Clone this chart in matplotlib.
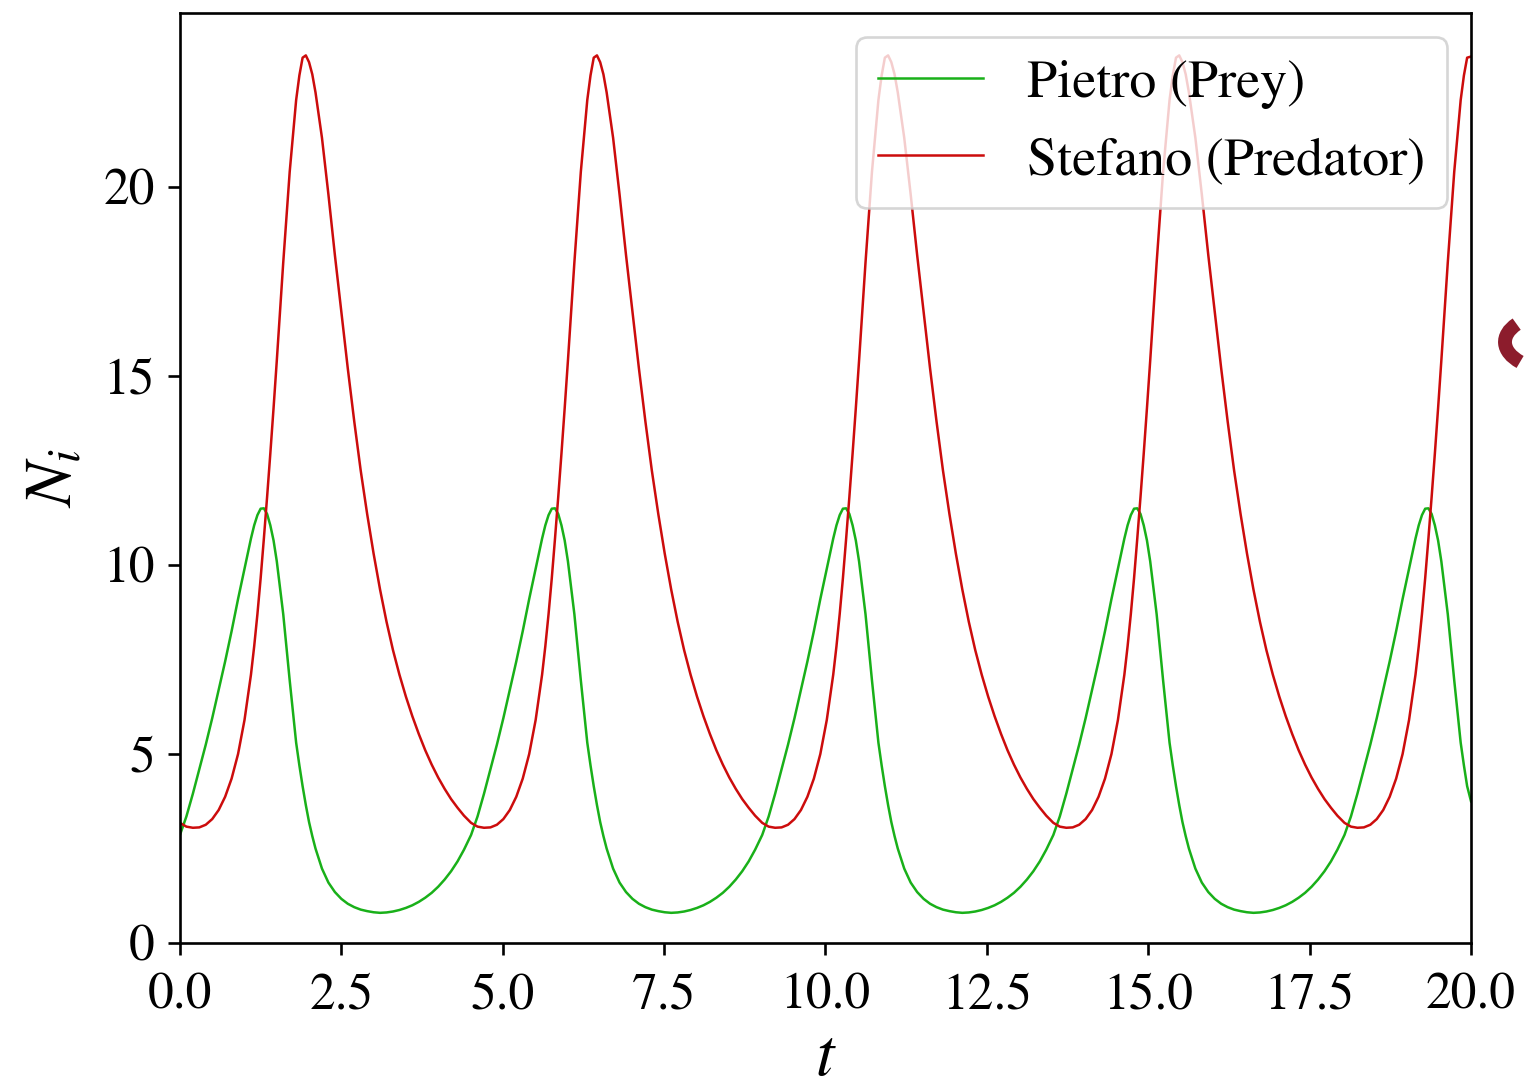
import numpy as np
import matplotlib
matplotlib.use("Agg")
import matplotlib.pyplot as plt
from matplotlib.patches import Arc

plt.rcParams['font.family'] = ['STIXGeneral', 'DejaVu Serif']
plt.rcParams['mathtext.fontset'] = 'stix'

# values, one list per oscillation
t0 = [0.0, 0.1, 0.2, 0.3, 0.4, 0.5, 0.6, 0.7, 0.8, 0.9, 1.0, 1.1,
      1.15, 1.2, 1.25, 1.3, 1.35, 1.4, 1.45, 1.5, 1.6, 1.7, 1.8, 1.85, 1.9, 1.95, 2.0, 2.05, 2.1,
      2.2, 2.3, 2.4, 2.5, 2.6, 2.7, 2.8, 2.9, 3.0, 3.1, 3.2, 3.3, 3.4, 3.5, 3.6, 3.7, 3.8, 3.9, 4.0, 4.1,
      4.2, 4.3, 4.4]
t1 = [4.51, 4.61, 4.71, 4.81, 4.91, 5.01, 5.11, 5.21, 5.31, 5.41, 5.51, 5.61,
      5.66, 5.71, 5.76, 5.81, 5.86, 5.91, 5.96, 6.01, 6.11, 6.21, 6.31, 6.36, 6.41, 6.46, 6.51, 6.56, 6.61,
      6.71, 6.81, 6.91, 7.01, 7.11, 7.21, 7.31, 7.41, 7.51, 7.61, 7.71, 7.81, 7.91, 8.01, 8.11, 8.21, 8.31,
      8.41, 8.51, 8.61, 8.71, 8.81, 8.91]
t2 = [9.02, 9.12, 9.22, 9.32, 9.42, 9.52, 9.62, 9.72, 9.82, 9.92, 10.02, 10.12,
      10.17, 10.22, 10.27, 10.32, 10.37, 10.42, 10.47, 10.52, 10.62, 10.72, 10.82, 10.87, 10.92, 10.97, 11.02,
      11.07, 11.12,
      11.22, 11.32, 11.42, 11.52, 11.62, 11.72, 11.82, 11.92, 12.02, 12.12, 12.22, 12.32, 12.42, 12.52, 12.62,
      12.72, 12.82, 12.92, 13.02, 13.12, 13.22, 13.32, 13.42]
t3 = [13.53, 13.63, 13.73, 13.83, 13.93, 14.03, 14.13, 14.23, 14.33, 14.43, 14.53, 14.63,
      14.68, 14.73, 14.78, 14.83, 14.88, 14.93, 14.98, 15.03, 15.13, 15.23, 15.33, 15.38, 15.43, 15.48, 15.53,
      15.58, 15.63,
      15.73, 15.83, 15.93, 16.03, 16.13, 16.23, 16.33, 16.43, 16.53, 16.63, 16.73, 16.83, 16.93, 17.03, 17.13,
      17.23, 17.33, 17.43, 17.53, 17.63, 17.73, 17.83, 17.93]
t4 = [18.04, 18.14, 18.24, 18.34, 18.44, 18.54, 18.64, 18.74, 18.84, 18.94, 19.04, 19.14,
      19.19, 19.24, 19.29, 19.34, 19.39, 19.44, 19.49, 19.54, 19.64, 19.74, 19.84, 19.89, 19.94, 20.0]

prey0 = [2.86, 3.35, 3.95, 4.6, 5.25, 5.95, 6.7, 7.45, 8.25, 9.1, 9.9, 10.7,
         11.05, 11.32, 11.49, 11.5, 11.35, 11.05, 10.65, 10.1, 8.7, 6.95, 5.3, 4.7, 4.15, 3.65, 3.2, 2.83, 2.5,
         1.97, 1.6, 1.35, 1.17, 1.04, 0.95, 0.885, 0.845, 0.815, 0.80, 0.81, 0.835, 0.875, 0.93, 1.0, 1.09, 1.2,
         1.33, 1.49, 1.68, 1.9, 2.16, 2.47]
prey1 = [2.86, 3.35, 3.95, 4.6, 5.25, 5.95, 6.7, 7.45, 8.25, 9.1, 9.9, 10.7,
         11.05, 11.32, 11.49, 11.5, 11.35, 11.05, 10.65, 10.1, 8.7, 6.95, 5.3, 4.7, 4.15, 3.65, 3.2, 2.83, 2.5,
         1.97, 1.6, 1.35, 1.17, 1.04, 0.95, 0.885, 0.845, 0.815, 0.80, 0.81, 0.835, 0.875, 0.93, 1.0, 1.09, 1.2,
         1.33, 1.49, 1.68, 1.9, 2.16, 2.47]
prey2 = [2.86, 3.35, 3.95, 4.6, 5.25, 5.95, 6.7, 7.45, 8.25, 9.1, 9.9, 10.7,
         11.05, 11.32, 11.49, 11.5, 11.35, 11.05, 10.65, 10.1, 8.7, 6.95, 5.3, 4.7, 4.15, 3.65, 3.2, 2.83, 2.5,
         1.97, 1.6, 1.35, 1.17, 1.04, 0.95, 0.885, 0.845, 0.815, 0.80, 0.81, 0.835, 0.875, 0.93, 1.0, 1.09, 1.2,
         1.33, 1.49, 1.68, 1.9, 2.16, 2.47]
prey3 = [2.86, 3.35, 3.95, 4.6, 5.25, 5.95, 6.7, 7.45, 8.25, 9.1, 9.9, 10.7,
         11.05, 11.32, 11.49, 11.5, 11.35, 11.05, 10.65, 10.1, 8.7, 6.95, 5.3, 4.7, 4.15, 3.65, 3.2, 2.83, 2.5,
         1.97, 1.6, 1.35, 1.17, 1.04, 0.95, 0.885, 0.845, 0.815, 0.80, 0.81, 0.835, 0.875, 0.93, 1.0, 1.09, 1.2,
         1.33, 1.49, 1.68, 1.9, 2.16, 2.47]
prey4 = [2.86, 3.35, 3.95, 4.6, 5.25, 5.95, 6.7, 7.45, 8.25, 9.1, 9.9, 10.7,
         11.05, 11.32, 11.49, 11.5, 11.35, 11.05, 10.65, 10.1, 8.7, 6.95, 5.3, 4.7, 4.15, 3.75]

pred0 = [3.18, 3.08, 3.05, 3.06, 3.13, 3.28, 3.52, 3.87, 4.35, 5.0, 5.9, 7.1,
         7.85, 8.7, 9.65, 10.7, 11.8, 12.95, 14.15, 15.4, 18.0, 20.4, 22.3, 22.95, 23.42, 23.48, 23.3, 22.98, 22.5,
         21.3, 19.8, 18.2, 16.7, 15.2, 13.8, 12.5, 11.35, 10.3, 9.35, 8.5, 7.75, 7.1, 6.52, 6.0, 5.53, 5.1, 4.72,
         4.38, 4.08, 3.81, 3.58, 3.37]
pred1 = [3.18, 3.08, 3.05, 3.06, 3.13, 3.28, 3.52, 3.87, 4.35, 5.0, 5.9, 7.1,
         7.85, 8.7, 9.65, 10.7, 11.8, 12.95, 14.15, 15.4, 18.0, 20.4, 22.3, 22.95, 23.42, 23.48, 23.3, 22.98, 22.5,
         21.3, 19.8, 18.2, 16.7, 15.2, 13.8, 12.5, 11.35, 10.3, 9.35, 8.5, 7.75, 7.1, 6.52, 6.0, 5.53, 5.1, 4.72,
         4.38, 4.08, 3.81, 3.58, 3.37]
pred2 = [3.18, 3.08, 3.05, 3.06, 3.13, 3.28, 3.52, 3.87, 4.35, 5.0, 5.9, 7.1,
         7.85, 8.7, 9.65, 10.7, 11.8, 12.95, 14.15, 15.4, 18.0, 20.4, 22.3, 22.95, 23.42, 23.48, 23.3, 22.98, 22.5,
         21.3, 19.8, 18.2, 16.7, 15.2, 13.8, 12.5, 11.35, 10.3, 9.35, 8.5, 7.75, 7.1, 6.52, 6.0, 5.53, 5.1, 4.72,
         4.38, 4.08, 3.81, 3.58, 3.37]
pred3 = [3.18, 3.08, 3.05, 3.06, 3.13, 3.28, 3.52, 3.87, 4.35, 5.0, 5.9, 7.1,
         7.85, 8.7, 9.65, 10.7, 11.8, 12.95, 14.15, 15.4, 18.0, 20.4, 22.3, 22.95, 23.42, 23.48, 23.3, 22.98, 22.5,
         21.3, 19.8, 18.2, 16.7, 15.2, 13.8, 12.5, 11.35, 10.3, 9.35, 8.5, 7.75, 7.1, 6.52, 6.0, 5.53, 5.1, 4.72,
         4.38, 4.08, 3.81, 3.58, 3.37]
pred4 = [3.18, 3.08, 3.05, 3.06, 3.13, 3.28, 3.52, 3.87, 4.35, 5.0, 5.9, 7.1,
         7.85, 8.7, 9.65, 10.7, 11.8, 12.95, 14.15, 15.4, 18.0, 20.4, 22.3, 22.95, 23.42, 23.45]

x_ticks = [0.0, 2.5, 5.0, 7.5, 10.0, 12.5, 15.0, 17.5, 20.0]
y_ticks = [0, 5, 10, 15, 20]

t = np.array(t0 + t1 + t2 + t3 + t4)
prey = np.array(prey0 + prey1 + prey2 + prey3 + prey4)
pred = np.array(pred0 + pred1 + pred2 + pred3 + pred4)

fig = plt.figure(figsize=(15.25, 10.89), dpi=100)
ax = fig.add_axes([0.118, 0.134, 0.8466, 0.854])

ax.plot(t, prey, color='#19b019', lw=1.8, label='Pietro (Prey)')
ax.plot(t, pred, color='#cc0c0c', lw=1.8, label='Stefano (Predator)')

ax.set_xlim(0, 20)
ax.set_ylim(0, 24.6)
ax.set_xticks(x_ticks)
ax.set_xticklabels(['%.1f' % v for v in x_ticks])
ax.set_yticks(y_ticks)
ax.tick_params(labelsize=37, length=8.5, width=1.9)
ax.tick_params(axis='x', pad=13)
ax.tick_params(axis='y', pad=9.5)
for s in ax.spines.values():
    s.set_linewidth(1.9)

ax.set_xlabel('$t$', fontsize=48, labelpad=7)
ax.set_ylabel('$N_i$', fontsize=48, labelpad=12)

leg = ax.legend(loc='upper right', fontsize=39, handlelength=1.95, borderaxespad=0.45)
leg.get_frame().set_linewidth(1.9)

# clipped logo at the right edge
fig.patches.append(Arc((1560 / 1525, 1 - 342 / 1089), 110 / 1525, 58 / 1089,
                       transform=fig.transFigure, color='#8c1c2c', lw=10, theta1=150, theta2=215))

fig.savefig('out.png', dpi=100)
